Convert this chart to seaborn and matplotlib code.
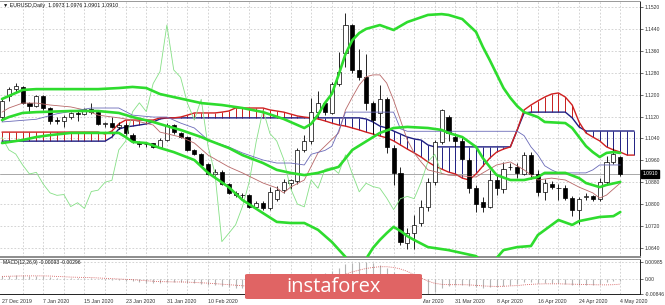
import numpy as np
import matplotlib
matplotlib.use("Agg")
import matplotlib.pyplot as plt
import matplotlib.transforms as mtransforms
from matplotlib.patches import FancyBboxPatch, Rectangle
import seaborn as sns

sns.set_style("white")
plt.rcParams['font.family'] = ['Liberation Sans', 'DejaVu Sans']

# ---------------- data ----------------
date_labels = ["27 Dec 2019", "7 Jan 2020", "15 Jan 2020", "23 Jan 2020", "31 Jan 2020",
               "10 Feb 2020", "18 Feb 2020", "26 Feb 2020", "5 Mar 2020", "13 Mar 2020",
               "23 Mar 2020", "31 Mar 2020", "8 Apr 2020", "16 Apr 2020", "24 Apr 2020", "4 May 2020"]
date_label_bars = [0, 6, 12, 18, 24, 30, 36, 42, 48, 54, 60, 66, 72, 78, 84, 90]

opens = [
    1.1120, 1.1195, 1.1220, 1.1226, 1.1170, 1.1160, 1.1195, 1.1150, 1.1107, 1.1105,
    1.1117, 1.1132, 1.1129, 1.1146, 1.1136, 1.1093, 1.1095, 1.1082, 1.1090, 1.1054,
    1.1026, 1.1020, 1.1022, 1.1010, 1.1034, 1.1088, 1.1060, 1.1046, 1.0998, 1.0983,
    1.0946, 1.0910, 1.0916, 1.0872, 1.0841, 1.0832, 1.0835, 1.0791, 1.0805, 1.0784,
    1.0820, 1.0851, 1.0878, 1.0885, 1.0998, 1.1030, 1.1137, 1.1170, 1.1134, 1.1240,
    1.1352, 1.1454, 1.1290, 1.1263, 1.1168, 1.1134, 1.1183, 1.1004, 1.0912, 1.0657,
    1.0693, 1.0730, 1.0791, 1.0882, 1.1028, 1.1119, 1.1046, 1.1030, 1.0961, 1.0858,
    1.0806, 1.0791, 1.0888, 1.0855, 1.0937, 1.0937, 1.0910, 1.0980, 1.0910, 1.0845,
    1.0873, 1.0860, 1.0858, 1.0823, 1.0780, 1.0826, 1.0828, 1.0820, 1.0880, 1.0955,
    1.0973]
highs = [
    1.1188, 1.1228, 1.1241, 1.1232, 1.1174, 1.1200, 1.1198, 1.1155, 1.1119, 1.1125,
    1.1138, 1.1140, 1.1150, 1.1168, 1.1140, 1.1101, 1.1117, 1.1100, 1.1095, 1.1058,
    1.1030, 1.1028, 1.1025, 1.1040, 1.1096, 1.1092, 1.1064, 1.1050, 1.1003, 1.0985,
    1.0950, 1.0930, 1.0925, 1.0878, 1.0848, 1.0840, 1.0838, 1.0812, 1.0810, 1.0862,
    1.0866, 1.0891, 1.0892, 1.1005, 1.1052, 1.1186, 1.1214, 1.1175, 1.1245, 1.1357,
    1.1497, 1.1458, 1.1366, 1.1347, 1.1175, 1.1235, 1.1192, 1.1015, 1.0935, 1.0712,
    1.0760, 1.0815, 1.0895, 1.1035, 1.1148, 1.1125, 1.1060, 1.1045, 1.0967, 1.0870,
    1.0825, 1.0925, 1.0906, 1.0952, 1.0950, 1.0950, 1.0990, 1.0990, 1.0925, 1.0890,
    1.0886, 1.0875, 1.0870, 1.0830, 1.0827, 1.0840, 1.0835, 1.0895, 1.0975, 1.1005,
    1.0976]
lows = [
    1.1105, 1.1175, 1.1210, 1.1164, 1.1132, 1.1155, 1.1144, 1.1093, 1.1093, 1.1083,
    1.1112, 1.1105, 1.1124, 1.1130, 1.1088, 1.1080, 1.1077, 1.1075, 1.1050, 1.1025,
    1.1010, 1.1010, 1.1005, 1.1008, 1.1030, 1.1055, 1.1040, 1.0995, 1.0978, 1.0940,
    1.0906, 1.0900, 1.0868, 1.0838, 1.0826, 1.0822, 1.0786, 1.0786, 1.0778, 1.0780,
    1.0812, 1.0840, 1.0856, 1.0874, 1.0990, 1.1020, 1.1120, 1.1125, 1.1130, 1.1230,
    1.1300, 1.1280, 1.1255, 1.1145, 1.1055, 1.1090, 1.0985, 1.0870, 1.0651, 1.0636,
    1.0636, 1.0720, 1.0775, 1.0870, 1.1020, 1.1030, 1.1010, 1.0960, 1.0839, 1.0772,
    1.0770, 1.0785, 1.0835, 1.0839, 1.0925, 1.0895, 1.0905, 1.0890, 1.0830, 1.0815,
    1.0855, 1.0815, 1.0815, 1.0757, 1.0727, 1.0815, 1.0812, 1.0812, 1.0870, 1.0945,
    1.0901]
closes = [
    1.1178, 1.1222, 1.1231, 1.1168, 1.1160, 1.1195, 1.1150, 1.1104, 1.1105, 1.1119,
    1.1134, 1.1129, 1.1146, 1.1136, 1.1093, 1.1095, 1.1082, 1.1090, 1.1058, 1.1030,
    1.1020, 1.1021, 1.1010, 1.1034, 1.1088, 1.1062, 1.1044, 1.0998, 1.0983, 1.0943,
    1.0910, 1.0916, 1.0873, 1.0841, 1.0832, 1.0835, 1.0791, 1.0805, 1.0784, 1.0846,
    1.0851, 1.0880, 1.0887, 1.0998, 1.1030, 1.1137, 1.1170, 1.1138, 1.1240, 1.1284,
    1.1454, 1.1290, 1.1263, 1.1168, 1.1107, 1.1183, 1.1010, 1.0912, 1.0663, 1.0693,
    1.0724, 1.0791, 1.0882, 1.1028, 1.1144, 1.1058, 1.1030, 1.0964, 1.0858, 1.0800,
    1.0790, 1.0888, 1.0858, 1.0927, 1.0934, 1.0912, 1.0980, 1.0910, 1.0845, 1.0876,
    1.0864, 1.0858, 1.0822, 1.0780, 1.0820, 1.0828, 1.0820, 1.0880, 1.0955, 1.0982,
    1.0910]

# Bollinger bands (read at sampled bars)
upper_bars = [0, 1, 3, 5, 10, 14, 17, 19, 21, 23, 25, 29, 32, 35, 38, 41, 43, 44, 45, 46,
              47, 48, 49, 50, 51, 52, 53, 54, 55, 57, 59, 62, 64, 65, 67, 69, 70, 71, 72, 73,
              74, 75, 76, 78, 79, 82, 83, 84, 85, 86, 87, 88, 89, 90]
upper = [1.1184, 1.1195, 1.1217, 1.1220, 1.1220, 1.1220, 1.1224, 1.1228, 1.1224, 1.1202,
         1.1191, 1.1169, 1.1162, 1.1151, 1.1136, 1.1111, 1.1089, 1.1078, 1.1093, 1.1126,
         1.1169, 1.1202, 1.1272, 1.1348, 1.1399, 1.1425, 1.1440, 1.1447, 1.1454, 1.1436,
         1.1465, 1.1491, 1.1494, 1.1491, 1.1476, 1.1429, 1.1374, 1.1326, 1.1275, 1.1224,
         1.1188, 1.1158, 1.1136, 1.1118, 1.1100, 1.1096, 1.1078, 1.1045, 1.1012, 1.0990,
         1.0972, 1.0987, 1.0990, 1.0987]
middle_bars = [0, 1, 3, 5, 10, 14, 17, 19, 22, 24, 26, 29, 30, 33, 35, 38, 40, 42, 44, 46,
               49, 51, 55, 57, 59, 62, 64, 65, 67, 69, 70, 71, 72, 74, 76, 78, 79, 82, 84, 85,
               87, 88, 90]
middle = [1.1107, 1.1118, 1.1133, 1.1136, 1.1140, 1.1140, 1.1133, 1.1118, 1.1100, 1.1085,
          1.1071, 1.1045, 1.1034, 1.1005, 1.0979, 1.0950, 1.0925, 1.0914, 1.0906, 1.0914,
          1.0936, 1.0998, 1.1060, 1.1078, 1.1082, 1.1078, 1.1071, 1.1060, 1.1045, 1.1009,
          1.0968, 1.0936, 1.0906, 1.0888, 1.0888, 1.0899, 1.0914, 1.0914, 1.0895, 1.0877,
          1.0862, 1.0870, 1.0881]
lower_bars = [0, 3, 5, 7, 10, 17, 18, 19, 21, 23, 25, 28, 30, 33, 35, 38, 40, 42, 44, 46,
              48, 50, 51, 52, 53, 54, 55, 56, 57, 58, 59, 60, 62, 65, 67, 69, 70, 72, 73, 75,
              77, 78, 81, 83, 84, 87, 89, 90]
lower = [1.1023, 1.1034, 1.1045, 1.1052, 1.1060, 1.1060, 1.1045, 1.1027, 1.1023, 1.1005,
         1.0990, 1.0961, 1.0914, 1.0862, 1.0815, 1.0767, 1.0735, 1.0731, 1.0731, 1.0706,
         1.0662, 1.0607, 1.0567, 1.0575, 1.0600, 1.0640, 1.0669, 1.0694, 1.0717, 1.0702,
         1.0683, 1.0669, 1.0643, 1.0632, 1.0621, 1.0610, 1.0588, 1.0603, 1.0632, 1.0643,
         1.0647, 1.0687, 1.0742, 1.0724, 1.0738, 1.0753, 1.0756, 1.0771]

# Ichimoku
tenkan_bars = [0, 1, 3, 5, 7, 10, 12, 14, 17, 19, 22, 23, 26, 28, 30, 33, 35, 38, 40, 41,
               42, 44, 46, 49, 50, 51, 52, 53, 54, 55, 56, 57, 58, 59, 60, 61, 62, 65, 67, 69,
               70, 72, 74, 76, 78, 80, 82, 84, 86, 87, 88, 90]
tenkan = [1.1136, 1.1151, 1.1169, 1.1169, 1.1162, 1.1155, 1.1144, 1.1125, 1.1115, 1.1107,
          1.1089, 1.1063, 1.1045, 1.1023, 1.0979, 1.0936, 1.0914, 1.0877, 1.0859, 1.0841,
          1.0862, 1.0888, 1.0987, 1.1060, 1.1144, 1.1191, 1.1235, 1.1265, 1.1272, 1.1272,
          1.1242, 1.1180, 1.1107, 1.1034, 1.0987, 1.0954, 1.0925, 1.0906, 1.0903, 1.0899,
          1.0914, 1.0943, 1.0954, 1.0925, 1.0888, 1.0895, 1.0888, 1.0862, 1.0841, 1.0822,
          1.0833, 1.0877]
kijun_bars = [0, 5, 8, 13, 17, 19, 22, 24, 26, 28, 30, 33, 35, 38, 40, 42, 44, 45, 47, 48,
              49, 50, 57, 58, 59, 75, 76, 77, 78, 79, 80, 81, 85, 86, 87, 90]
kijun = [1.1100, 1.1110, 1.1130, 1.1151, 1.1151, 1.1125, 1.1118, 1.1118, 1.1096, 1.1078,
         1.1034, 1.1009, 1.0987, 1.0961, 1.0950, 1.0950, 1.0943, 1.0982, 1.0996, 1.1011,
         1.1067, 1.1136, 1.1136, 1.1075, 1.1066, 1.1066, 1.1050, 1.1009, 1.0980, 1.0940,
         1.0925, 1.0914, 1.0914, 1.0925, 1.0943, 1.0943]
span_a = ([1.1063] * 15 + [1.1056, 1.1067, 1.1093] + [1.1107] * 5 + [1.1115] * 3 +
          [1.1118, 1.1125] + [1.1133] * 4 + [1.1136, 1.1140] + [1.1151] * 5 +
          [1.1144, 1.1140, 1.1136, 1.1129, 1.1122, 1.1118, 1.1115, 1.1111, 1.1104, 1.1096,
           1.1089, 1.1085, 1.1078, 1.1071, 1.1063, 1.1056, 1.1049, 1.1042, 1.1031, 1.1016,
           1.1001, 1.0987, 1.0972, 1.0954, 1.0939, 1.0928, 1.0917, 1.0910, 1.0895, 1.0888,
           1.0910, 1.0939, 1.0968, 1.0990, 1.1001, 1.1009, 1.1071, 1.1144, 1.1162, 1.1177,
           1.1191, 1.1202, 1.1206, 1.1191, 1.1162, 1.1100, 1.1060, 1.1045, 1.1031, 1.1009,
           1.0998, 1.0990, 1.0979, 1.0979])
span_b = ([1.1030] * 16 + [1.1045, 1.1074, 1.1082, 1.1085, 1.1089, 1.1093, 1.1100, 1.1111] +
          [1.1115] * 29 +
          [1.1111, 1.1100, 1.1085, 1.1078, 1.1067, 1.1056, 1.1045, 1.1038, 1.1034, 1.1016] +
          [1.1009] * 12 + [1.1071, 1.1133] + [1.1136] * 6 + [1.1115, 1.1082] + [1.1067] * 8)

# MACD (12,26,9), values in thousandths
macd_milli = [1.6, 1.9, 2.2, 2.1, 1.9, 1.9, 1.6, 1.1, 0.8, 0.6,
              0.5, 0.4, 0.5, 0.4, 0.0, -0.3, -0.5, -0.6, -0.9, -1.4,
              -1.8, -2.1, -2.4, -2.4, -1.9, -1.8, -1.8, -2.1, -2.4, -2.9,
              -3.4, -3.7, -4.2, -4.7, -5.0, -5.2, -5.7, -5.8, -6.0, -5.5,
              -5.0, -4.4, -3.9, -2.5, -1.2, 0.6, 2.2, 3.3, 4.8, 6.2,
              8.5, 9.3, 9.8, 9.85, 9.0, 8.0, 6.5, 3.8, -0.6, -3.9,
              -6.2, -8.0, -8.46, -7.5, -5.5, -4.2, -3.3, -3.2, -3.9, -4.8,
              -5.4, -4.8, -4.6, -3.8, -3.2, -2.9, -2.0, -1.9, -2.2, -2.3,
              -2.4, -2.5, -2.8, -3.3, -3.3, -3.3, -3.2, -2.7, -1.9, -1.0,
              -0.93]
signal_milli = [1.5, 1.6, 1.7, 1.8, 1.8, 1.8, 1.8, 1.7, 1.5, 1.3,
                1.1, 1.0, 0.9, 0.8, 0.6, 0.4, 0.2, 0.0, -0.2, -0.4,
                -0.7, -1.0, -1.3, -1.5, -1.6, -1.7, -1.7, -1.8, -2.0, -2.2,
                -2.4, -2.7, -3.0, -3.3, -3.6, -3.9, -4.3, -4.6, -4.8, -5.0,
                -5.0, -4.9, -4.7, -4.3, -3.7, -2.9, -1.9, -0.9, 0.2, 1.4,
                2.8, 4.1, 5.2, 6.1, 6.7, 7.1, 7.1, 6.7, 5.8, 4.4,
                2.5, 0.6, -1.2, -2.5, -3.1, -3.3, -3.3, -3.3, -3.4, -3.7,
                -4.0, -4.2, -4.3, -4.2, -4.0, -3.8, -3.4, -3.1, -2.9, -2.8,
                -2.8, -2.8, -2.9, -3.0, -3.1, -3.2, -3.3, -3.4, -3.4, -3.3,
                -2.96]

price_ticks = [1.1520, 1.1440, 1.1360, 1.1280, 1.1200, 1.1120, 1.1040, 1.0960, 1.0880,
               1.0800, 1.0720, 1.0640]
macd_ticks = [0.00985, 0.0, -0.00846]
macd_tick_labels = ["0.00985", "0.00", "-0.00846"]
last_price = 1.0910
header = "\u25bc EURUSD,Daily  1.0973 1.0976 1.0901 1.0910"
macd_header = "MACD(12,26,9) -0.00093 -0.00296"

# ---------------- figure ----------------
W, H = 665, 305
fig = plt.figure(figsize=(W / 100, H / 100), dpi=100)
fig.patch.set_facecolor("white")


def fy(py):
    return 1 - py / H


ax = fig.add_axes([0, fy(257), 640 / W, (257 - 1) / H])
ax2 = fig.add_axes([0, fy(294), 640 / W, (294 - 259) / H])

n = len(closes)
bars = np.arange(n)
xlim = (-0.291, 92.87)
for a in (ax, ax2):
    a.set_xlim(*xlim)
    a.set_facecolor("white")
ax.set_ylim(1.06068, 1.15419)
ax2.set_ylim(-0.00869, 0.01158)

grid_kw = dict(color="#C4C4C4", lw=0.5, ls=(0, (2.5, 2.5)), zorder=0)
for b in range(3, 93, 3):
    ax.axvline(b, **grid_kw)
    ax2.axvline(b, **grid_kw)
for p in price_ticks:
    ax.axhline(p, **grid_kw)
for v in macd_ticks:
    ax2.axhline(v, **grid_kw)

# Ichimoku cloud hatch
cloud_bars = np.arange(len(span_a))
sa = np.array(span_a)
sb = np.array(span_b)
hatch_colors = ["#C81E1E" if a_ > b_ else "#1E1E82" for a_, b_ in zip(sa, sb)]
ax.vlines(cloud_bars, sb, sa, colors=hatch_colors, lw=0.7, zorder=1)
sns.lineplot(x=cloud_bars, y=sb, ax=ax, color="#1E1E82", lw=1.0, sort=False,
             estimator=None, legend=False, zorder=2)
sns.lineplot(x=cloud_bars, y=sa, ax=ax, color="#D02020", lw=1.0, sort=False,
             estimator=None, legend=False, zorder=2)

# bid line
ax.axhline(last_price, color="#A8A8A8", lw=0.7, zorder=1)

# candles
o = np.array(opens); h = np.array(highs); l = np.array(lows); c = np.array(closes)
ax.vlines(bars, l, h, color="black", lw=0.6, zorder=3)
up = c >= o
body_bot = np.minimum(o, c)
body_h = np.maximum(np.abs(c - o), 0.00006)
ax.bar(bars[up], body_h[up], bottom=body_bot[up], width=0.6, color="white",
       edgecolor="black", lw=0.5, zorder=3)
ax.bar(bars[~up], body_h[~up], bottom=body_bot[~up], width=0.6, color="black",
       edgecolor="black", lw=0.5, zorder=3)

# chikou span = closes shifted back 26 bars
sns.lineplot(x=bars[:n - 26], y=closes[26:], ax=ax, color="#86E086", lw=0.6,
             sort=False, estimator=None, legend=False, zorder=4)
# tenkan / kijun
sns.lineplot(x=tenkan_bars, y=tenkan, ax=ax, color="#B86868", lw=0.6, sort=False,
             estimator=None, legend=False, zorder=4)
sns.lineplot(x=kijun_bars, y=kijun, ax=ax, color="#6A6AB8", lw=0.6, sort=False,
             estimator=None, legend=False, zorder=4)

# Bollinger bands
for xs, ys in ((upper_bars, upper), (middle_bars, middle), (lower_bars, lower)):
    sns.lineplot(x=xs, y=ys, ax=ax, color="#2EDC2E", lw=1.9, sort=False,
                 estimator=None, legend=False, zorder=5)

# MACD
macd = np.array(macd_milli) / 1000.0
signal = np.array(signal_milli) / 1000.0
ax2.vlines(bars, 0, macd, color="#B4B4B4", lw=0.8, zorder=2)
sns.lineplot(x=bars, y=signal, ax=ax2, color="#D04848", lw=0.6, sort=False,
             estimator=None, legend=False, zorder=3)
ax2.lines[-1].set_linestyle((0, (1, 1.5)))

# axes styling
for a in (ax, ax2):
    a.set_xlabel("")
    a.set_ylabel("")
    a.spines["left"].set_visible(False)
    a.spines["right"].set_color("#222222")
    a.spines["right"].set_linewidth(0.7)
ax.spines["top"].set_color("#999999")
ax.spines["top"].set_linewidth(0.7)
ax.spines["bottom"].set_color("#8C8C8C")
ax.spines["bottom"].set_linewidth(1.4)
ax2.spines["top"].set_color("#8C8C8C")
ax2.spines["top"].set_linewidth(0.7)
ax2.spines["bottom"].set_color("#222222")
ax2.spines["bottom"].set_linewidth(0.7)

ax.yaxis.tick_right()
ax.set_yticks(price_ticks)
ax.set_yticklabels([f"{p:.4f}" for p in price_ticks])
ax.tick_params(axis="y", labelsize=3.6, length=2, width=0.5, pad=1.5, colors="#333333")
ax.set_xticks([])

ax2.yaxis.tick_right()
ax2.set_yticks(macd_ticks)
ax2.set_yticklabels(macd_tick_labels)
ax2.tick_params(axis="y", labelsize=3.6, length=2, width=0.5, pad=1.5, colors="#333333")
ax2.set_xticks(date_label_bars)
ax2.set_xticklabels(date_labels, ha="left")
ax2.tick_params(axis="x", labelsize=3.8, length=2, width=0.5, pad=1.5, colors="#333333")

# current price tag
trans = mtransforms.blended_transform_factory(ax.transAxes, ax.transData)
ax.text(1.004, last_price, f"{last_price:.4f}", transform=trans, fontsize=3.6,
        color="white", va="center", ha="left", clip_on=False, zorder=10,
        bbox=dict(boxstyle="square,pad=0.25", fc="black", ec="black"))

# headers
fig.text(3 / W, fy(5.5), header, fontsize=3.8, va="center", ha="left", color="#111111")
fig.text(3 / W, fy(262.5), macd_header, fontsize=3.6, va="center", ha="left", color="#111111")

# logo (drawn above both panels, with a white strip beneath it)
strip = Rectangle((244 / W, 0), (423 - 244) / W, fy(296), transform=fig.transFigure,
                  fc="white", ec="none", zorder=19)
fig.add_artist(strip)
logo = FancyBboxPatch((245 / W, fy(299)), (422 - 245) / W, (299 - 274) / H,
                      boxstyle="round,pad=0,rounding_size=0.004", transform=fig.transFigure,
                      fc="#E06464", ec="none", zorder=20)
fig.add_artist(logo)
logo_text = fig.text(333.5 / W, fy(286.5), "instaforex", fontsize=14.5, color="white",
                     ha="center", va="center", family=["Open Sans", "Lato", "DejaVu Sans"],
                     zorder=21)

fig.savefig("out.png", dpi=100)
